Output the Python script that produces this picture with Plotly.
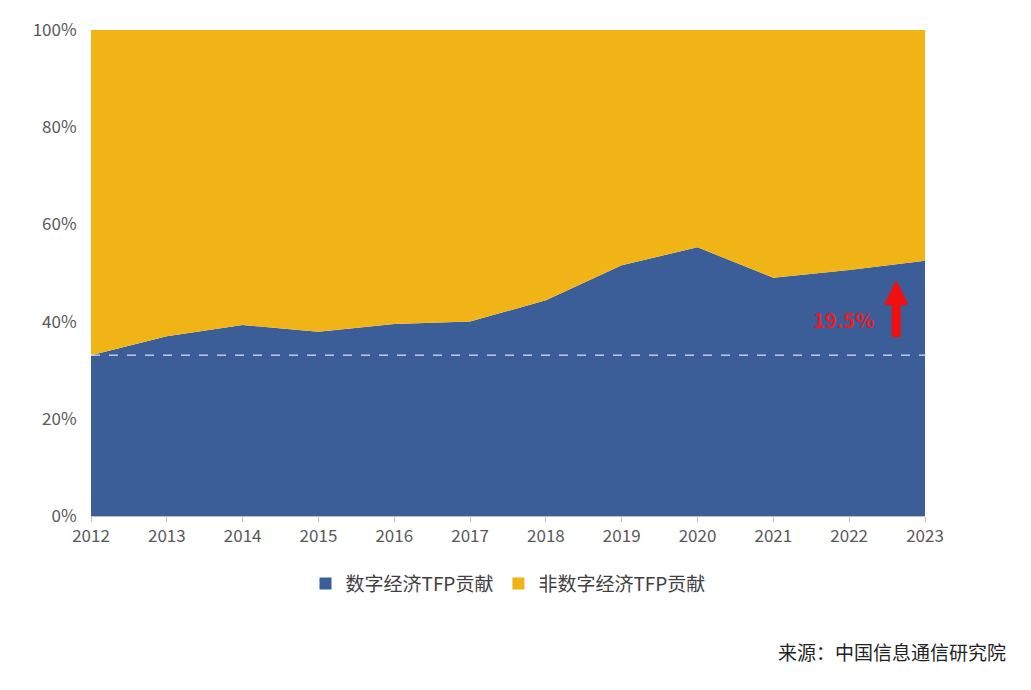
import plotly.graph_objects as go

years = [2012, 2013, 2014, 2015, 2016, 2017, 2018, 2019, 2020, 2021, 2022, 2023]
digital = [33.1, 37.0, 39.3, 37.9, 39.5, 40.0, 44.4, 51.6, 55.3, 49.0, 50.6, 52.5]
non_digital = [100 - v for v in digital]
base_line = 33.1
growth_label = "19.5%"
y_ticks = [0, 20, 40, 60, 80, 100]

blue = "#3B5E98"
yellow = "#F1B416"
font = "Noto Sans CJK SC, Noto Sans, sans-serif"

fig = go.Figure()
fig.add_trace(go.Scatter(x=years, y=digital, name="数字经济TFP贡献", stackgroup="a",
                         mode="none", fillcolor=blue, showlegend=False))
fig.add_trace(go.Scatter(x=years, y=non_digital, name="非数字经济TFP贡献", stackgroup="a",
                         mode="none", fillcolor=yellow, showlegend=False))
# legend squares
for name, c in [("数字经济TFP贡献", blue), ("非数字经济TFP贡献", yellow)]:
    fig.add_trace(go.Scatter(x=[None], y=[None], name=name, mode="markers",
                             marker=dict(symbol="square", size=12, color=c)))

fig.add_shape(type="line", xref="x", yref="y", x0=years[0], x1=years[-1],
              y0=base_line, y1=base_line, line=dict(color="white", width=1, dash="dash"))
fig.add_annotation(x=2022.35, y=40.5, text="<b>" + growth_label + "</b>", showarrow=False,
                   font=dict(color="#E0202A", size=20, family=font), xanchor="right")
fig.add_annotation(x=2022.62, y=48.5, ax=2022.62, ay=36.5, xref="x", yref="y",
                   axref="x", ayref="y", text="", showarrow=True,
                   arrowhead=2, arrowsize=0.55, arrowwidth=9, arrowcolor="#F01010")
fig.add_annotation(x=1.1, y=-0.31, xref="paper", yref="paper", text="来源：中国信息通信研究院",
                   showarrow=False, xanchor="right", font=dict(size=19, color="#222", family=font))

fig.update_layout(
    width=1031, height=690, paper_bgcolor="white", plot_bgcolor="white",
    margin=dict(l=83, r=114, t=22, b=182, autoexpand=False),
    font=dict(family=font, size=17, color="#595959"),
    legend=dict(orientation="h", x=0.5, xanchor="center", y=-0.1, yanchor="top",
                font=dict(size=19, color="#404040"), traceorder="normal"),
    xaxis=dict(range=[2012, 2023], tickvals=years, showgrid=False, ticks="outside",
               ticklen=5, tickcolor="#BFBFBF", showline=True, linecolor="#BFBFBF",
               automargin=False),
    yaxis=dict(range=[0, 100], tickvals=y_ticks, ticktext=[f"{v}%" for v in y_ticks],
               showgrid=False, showline=False, automargin=False,
               ticks="outside", ticklen=10, tickcolor="rgba(0,0,0,0)"),
)
fig.write_html("out.html")
